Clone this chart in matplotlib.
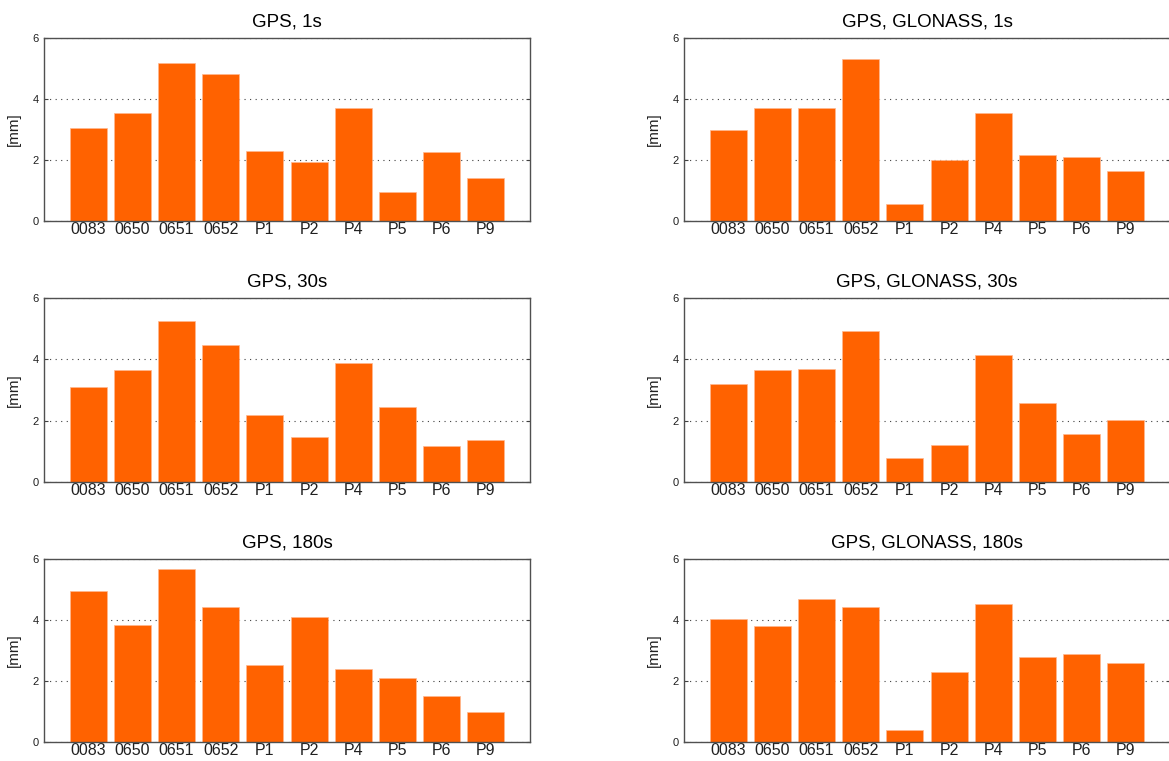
import numpy as np
import matplotlib
matplotlib.use('Agg')
import matplotlib.pyplot as plt

plt.rcParams['font.family'] = ['Liberation Sans', 'DejaVu Sans']

stations = ['0083', '0650', '0651', '0652', 'P1', 'P2', 'P4', 'P5', 'P6', 'P9']

titles = ['GPS, 1s', 'GPS, GLONASS, 1s',
          'GPS, 30s', 'GPS, GLONASS, 30s',
          'GPS, 180s', 'GPS, GLONASS, 180s']

# RMS w mm dla kazdej stacji
gps_1s = [3.04, 3.55, 5.18, 4.83, 2.31, 1.94, 3.72, 0.96, 2.25, 1.41]
glo_1s = [2.97, 3.72, 3.72, 5.31, 0.56, 1.99, 3.55, 2.17, 2.10, 1.65]
gps_30s = [3.10, 3.66, 5.24, 4.48, 2.20, 1.48, 3.89, 2.45, 1.17, 1.38]
glo_30s = [3.18, 3.66, 3.69, 4.91, 0.79, 1.20, 4.14, 2.58, 1.56, 2.03]
gps_180s = [4.95, 3.82, 5.67, 4.41, 2.51, 4.09, 2.40, 2.09, 1.52, 0.99]
glo_180s = [4.04, 3.80, 4.70, 4.42, 0.38, 2.31, 4.52, 2.80, 2.90, 2.60]

series = [gps_1s, glo_1s, gps_30s, glo_30s, gps_180s, glo_180s]

W, H = 1169, 761
fig = plt.figure(figsize=(W / 100, H / 100), dpi=100)

col_x = [44, 684]
row_y = [(38, 221), (298, 482), (559, 742)]
ax_w = 486

x = np.arange(1, len(stations) + 1)
for i, (title, vals) in enumerate(zip(titles, series)):
    r, c = divmod(i, 2)
    top, bot = row_y[r]
    ax = fig.add_axes([col_x[c] / W, 1 - bot / H, ax_w / W, (bot - top) / H])
    ax.bar(x, vals, width=0.84, color='#FF6200', edgecolor='#FFB890',
           linewidth=0.5, zorder=2)
    ax.set_xlim(0, 11)
    ax.set_ylim(0, 6)
    ax.set_yticks([0, 2, 4, 6])
    ax.set_xticks(x)
    ax.set_xticklabels(stations, fontsize=11.5, color='#202020')
    ax.tick_params(axis='x', length=0, pad=1)
    ax.tick_params(axis='y', direction='in', length=3, width=0.8,
                   labelsize=8, pad=4, colors='#404040', labelcolor='#202020',
                   right=True)
    ax.grid(axis='y', linestyle=(0, (1, 4)), linewidth=0.8, color='#404040',
            zorder=1)
    for s in ax.spines.values():
        s.set_color('#505050')
        s.set_linewidth(1.0)
    ax.set_ylabel('[mm]', fontsize=11, color='#202020', labelpad=8)
    ax.set_title(title, fontsize=13.5, pad=8)

fig.savefig('out.png', dpi=100)
